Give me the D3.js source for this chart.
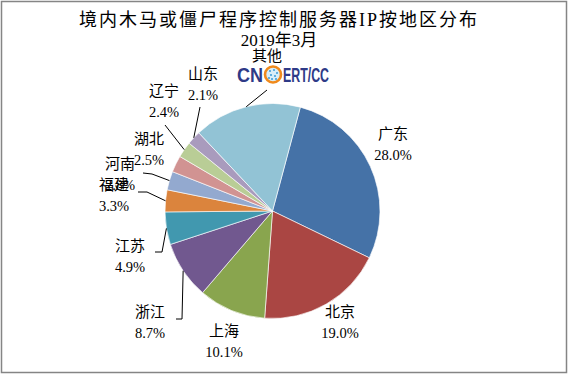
<!DOCTYPE html>
<html><head><meta charset="utf-8">
<script src="https://cdn.jsdelivr.net/npm/d3@7"></script>
<style>html,body{margin:0;padding:0;background:#fff;}svg{display:block;}</style>
</head><body>
<script>
// ---- data ----
const categories = ["广东","北京","上海","浙江","江苏","福建","河南","湖北","辽宁","山东","其他"];
const values     = [28.0, 19.0, 10.1, 8.7, 4.9, 3.3, 2.8, 2.5, 2.4, 2.1, 16.2];
const colors     = ["#4572A7","#AA4643","#89A54E","#71588F","#4198AF","#DB843D","#93A9CF","#D19392","#B9CD96","#A99BBD","#92C3D5"];
const titleLines = ["境内木马或僵尸程序控制服务器IP按地区分布","2019年3月"];

// ---- layout (label anchors and leader elbows) ----
const labelLayout = {
  "广东":{x:393,y:139},
  "北京":{x:340,y:317},
  "上海":{x:224,y:336},
  "浙江":{x:150,y:317, lead:[[182,319],[176,319]]},
  "江苏":{x:130,y:251, lead:[[162,252],[155,252]]},
  "福建":{x:114,y:190, lead:[[147,192],[138,192]]},
  "河南":{x:120,y:169, lead:[[152,174],[143,173]]},
  "湖北":{x:149,y:144},
  "辽宁":{x:164,y:96,  lead:[[165,125]]},
  "山东":{x:203,y:79,  lead:[[200,107]]},
  "其他":{x:267,y:61,  lead:[[267,90]]}
};

const W=568,H=374, cx=272.5, cy=211, R=107.5;
const svg=d3.select("body").append("svg").attr("width",W).attr("height",H);
svg.append("rect").attr("x",0).attr("y",0).attr("width",W).attr("height",H).attr("fill","#fff");
svg.append("rect").attr("x",1.5).attr("y",1.5).attr("width",565).attr("height",371)
  .attr("fill","none").attr("stroke","#858585").attr("stroke-width",1.5);

const serif = "'Liberation Serif','Times New Roman','Noto Sans CJK SC',serif";

// title
svg.append("text").attr("x",279).attr("y",26).attr("text-anchor","middle")
  .attr("font-family",serif).attr("font-size",18).attr("letter-spacing",2).attr("fill","#000")
  .text(titleLines[0]);
svg.append("text").attr("x",279).attr("y",46).attr("text-anchor","middle")
  .attr("font-family",serif).attr("font-size",17).attr("fill","#000")
  .text(titleLines[1]);

const data = categories.map((c,i)=>({name:c,value:values[i],color:colors[i]}));
const start = 15*Math.PI/180;
const pie = d3.pie().value(d=>d.value).sort(null).startAngle(start).endAngle(start+2*Math.PI);
const arcs = pie(data);
const arc = d3.arc().innerRadius(0).outerRadius(R);

const g = svg.append("g").attr("transform",`translate(${cx},${cy})`);
g.selectAll("path.slice").data(arcs).enter().append("path")
  .attr("class","slice").attr("d",arc).attr("fill",d=>d.data.color)
  .attr("stroke","#ffffff").attr("stroke-width",0.8).attr("stroke-opacity",0.8);

// leader lines
arcs.forEach(a=>{
  const L = labelLayout[a.data.name];
  if(!L.lead) return;
  const m=(a.startAngle+a.endAngle)/2;
  const p0=[cx+R*Math.sin(m), cy-R*Math.cos(m)];
  const pts=[p0].concat(L.lead);
  svg.append("path").attr("d",d3.line()(pts)).attr("fill","none")
    .attr("stroke","#000").attr("stroke-width",1);
});

// labels
arcs.forEach(a=>{
  const L = labelLayout[a.data.name];
  const t = svg.append("text").attr("text-anchor","middle").attr("font-family",serif)
    .attr("font-size",14.5).attr("fill","#000");
  t.append("tspan").attr("x",L.x).attr("y",L.y).attr("font-size",15).text(a.data.name);
  t.append("tspan").attr("x",L.x).attr("y",L.y+21).text(a.data.value.toFixed(1)+"%");
});

// CNCERT/CC watermark logo (covers the 其他 value as in the source)
const logo = svg.append("g");
logo.append("rect").attr("x",235).attr("y",63).attr("width",96).attr("height",21).attr("fill","#fff");
const lf="'Liberation Sans','Arial',sans-serif";
logo.append("text").attr("x",237).attr("y",82).attr("font-family",lf).attr("font-weight","bold")
  .attr("font-size",20).attr("fill","#2E3A87").attr("textLength",26).attr("lengthAdjust","spacingAndGlyphs").text("CN");
logo.append("circle").attr("cx",273).attr("cy",74.5).attr("r",8).attr("fill","#d8eef8")
  .attr("stroke","#F08A1C").attr("stroke-width",2.6);
[[270,71],[274,70],[277,73],[271,75],[275,76],[272,79],[276,79],[269,78]].forEach(p=>{
  logo.append("circle").attr("cx",p[0]).attr("cy",p[1]).attr("r",1).attr("fill","#3a9ad9");
});
logo.append("text").attr("x",283).attr("y",82).attr("font-family",lf).attr("font-weight","bold")
  .attr("font-size",20).attr("fill","#2E3A87").attr("textLength",46).attr("lengthAdjust","spacingAndGlyphs").text("ERT/CC");
</script>
</body></html>
